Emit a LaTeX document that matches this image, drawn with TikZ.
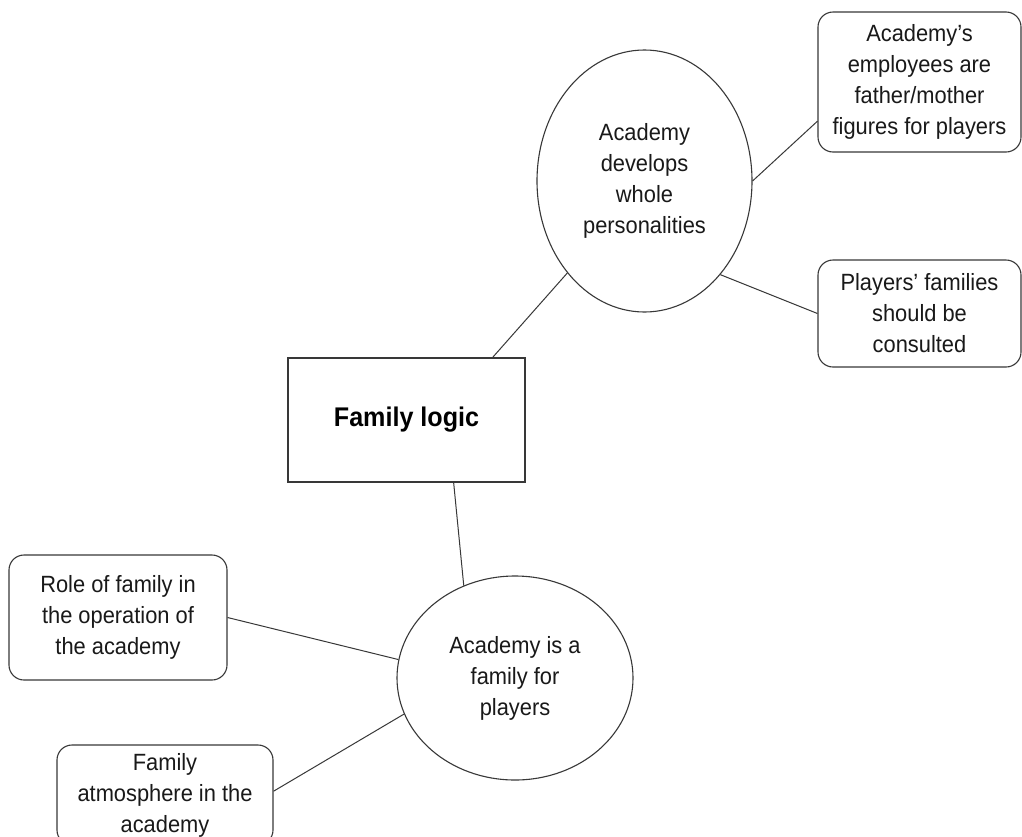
\documentclass[tikz,border=0pt]{standalone}
\usepackage{fontspec}
\setmainfont{Liberation Sans}[FakeStretch=0.93]
\usetikzlibrary{shapes.geometric}

\tikzset{
  base/.style={draw=black!78, line width=1.1pt, align=center, inner sep=0pt,
    font=\fontsize{23.5}{31}\selectfont, text=black!90},
  oval/.style={base, ellipse},
  leaf/.style={base, rectangle, rounded corners=15pt},
  hub/.style={base, rectangle, font=\fontsize{27}{31}\selectfont\bfseries, text=black},
  link/.style={draw=black!78, line width=1pt}
}

\begin{document}
\begin{tikzpicture}[x=1pt, y=-1pt]
  \useasboundingbox (0,0) rectangle (1022,836);
  \fill[white] (0,0) rectangle (1022,836);
  \clip (0,0) rectangle (1022,836);

  % central theme
  \node[hub, minimum width=237pt, minimum height=124pt] (logic) at (406.5,420) {Family logic};

  % second-level themes
  \node[oval, minimum width=215pt, minimum height=262pt] (dev) at (644.5,181)
    {Academy\\develops\\whole\\personalities};
  \node[oval, minimum width=236pt, minimum height=204pt] (fam) at (515,678)
    {Academy is a\\family for\\players};

  % codes
  \node[leaf, minimum width=203pt, minimum height=140pt] (emp) at (919.5,82)
    {Academy’s\\employees are\\father/mother\\figures for players};
  \node[leaf, minimum width=203pt, minimum height=107pt] (cons) at (919.5,313.5)
    {Players’ families\\should be\\consulted};
  \node[leaf, minimum width=218pt, minimum height=125pt] (role) at (118,617.5)
    {Role of family in\\the operation of\\the academy};
  \node[leaf, minimum width=216pt, minimum height=100pt] (atmos) at (165,795)
    {Family\\atmosphere in the\\academy};

  % connectors
  \draw[link] (logic.36.9) -- (dev.230.5);
  \draw[link] (logic.307.5) -- (fam.119.2);
  \draw[link] (dev.-0.5) -- (emp.201.5);
  \draw[link] (dev.309) -- (cons.180);
  \draw[link] (fam.171.3) -- (role.0);
  \draw[link] (fam.198.9) -- (atmos.2);
\end{tikzpicture}
\end{document}
